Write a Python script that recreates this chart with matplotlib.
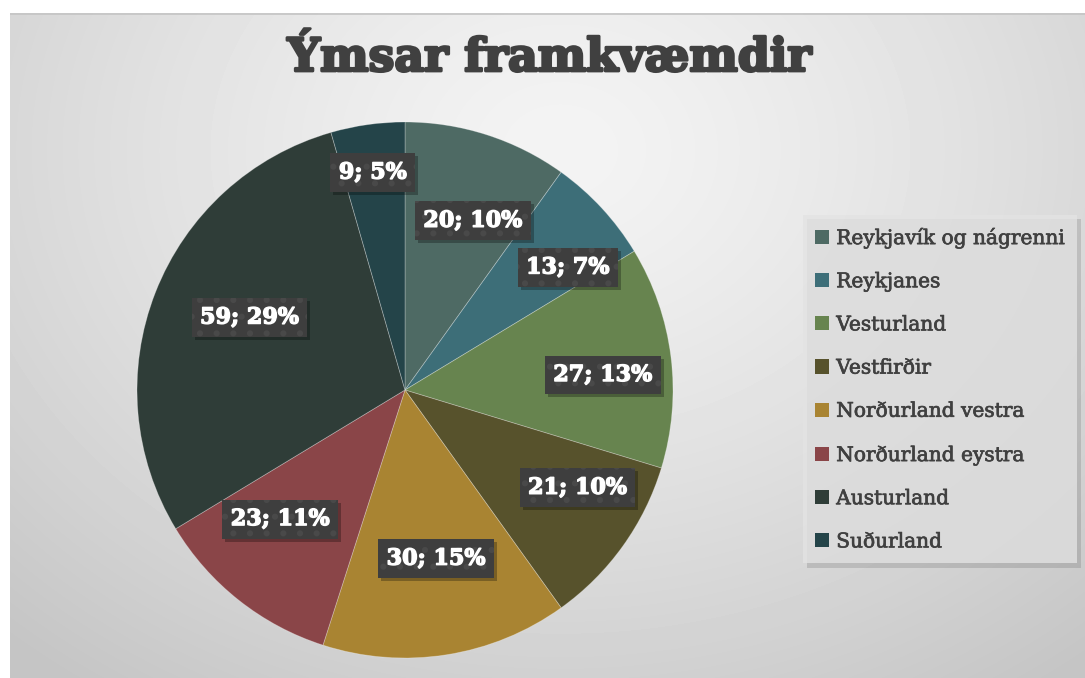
import numpy as np
import matplotlib
matplotlib.use("Agg")
import matplotlib.pyplot as plt
from matplotlib.patches import Patch, Rectangle
import matplotlib.patheffects as pe
import matplotlib.transforms as mtransforms

# ---- data ----
title = "Ýmsar framkvæmdir"
categories = ["Reykjavík og nágrenni", "Reykjanes", "Vesturland", "Vestfirðir",
              "Norðurland vestra", "Norðurland eystra", "Austurland", "Suðurland"]
values = [20, 13, 27, 21, 30, 23, 59, 9]
percents = [10, 7, 13, 10, 15, 11, 29, 5]
colors = ["#4e6a64", "#3d6e78", "#67844f", "#57522c", "#a98432", "#8a4548", "#2f3d38", "#244449"]

# label placement style (radius fraction, angular tweak in degrees)
label_r = [0.68, 0.76, 0.74, 0.74, 0.64, 0.67, 0.64, 0.82]
label_dang = [-4, -5.8, -2.8, 6.1, 1.5, -5.7, -3.6, 0.4]

W, H = 1085, 678
fig = plt.figure(figsize=(W / 100, H / 100), dpi=100)
fig.patch.set_facecolor("white")

# background gradient panel
bx0, by0 = 10, 13
bg = fig.add_axes([bx0 / W, 0, 1 - bx0 / W, 1 - by0 / H])
bg.set_axis_off()
yy, xx = np.mgrid[by0:H, bx0:W]
d = np.hypot((xx - 560) * 0.8, (yy - 150))
v = np.clip(0.955 - 0.17 * (d / 620) ** 1.3, 0.77, 1)
bg.imshow(v, cmap="gray", vmin=0, vmax=1, aspect="auto", extent=[0, 1, 0, 1], interpolation="bilinear")
bg.plot([0, 1], [0.999, 0.999], color="#c4c4c4", lw=1.2, transform=bg.transAxes)
bg.set_xlim(0, 1); bg.set_ylim(0, 1)

# pie axes
cx, cy, r = 405, 390, 268
ax = fig.add_axes([(cx - r) / W, (H - cy - r) / H, 2 * r / W, 2 * r / H])
ax.set_axis_off()
wedges, _ = ax.pie(values, colors=colors, startangle=90, counterclock=False,
                   wedgeprops=dict(edgecolor=(1, 1, 1, 0.3), linewidth=0.6))
ax.set_xlim(-1, 1); ax.set_ylim(-1, 1)

plt.rcParams["hatch.linewidth"] = 2.0
heavy = [pe.withStroke(linewidth=1.0, foreground="white")]
labels = []
for w, val, pct, rr, da in zip(wedges, values, percents, label_r, label_dang):
    ang = np.deg2rad((w.theta1 + w.theta2) / 2 + da)
    x, y = rr * np.cos(ang), rr * np.sin(ang)
    t = ax.text(x, y, f"{val}; {pct}%", ha="center", va="center", fontsize=16,
                fontweight="bold", family="DejaVu Serif", color="white",
                path_effects=heavy, zorder=5,
                bbox=dict(boxstyle="square,pad=0.38", facecolor="#3e3e3e",
                          edgecolor="#494949", linewidth=0, hatch="."))
    labels.append(t)

# title
fig.text(550 / W, 1 - 58 / H, title, ha="center", va="center", fontsize=33,
         fontweight="bold", family="DejaVu Serif", color="#404040",
         path_effects=[pe.withStroke(linewidth=2.0, foreground="#404040")])

# legend
handles = [Patch(facecolor=c, edgecolor="none") for c in colors]
leg = fig.legend(handles, categories, loc="upper left",
                 bbox_to_anchor=(803 / W, 1 - 215 / H), frameon=True,
                 fancybox=False, shadow=False,
                 prop=dict(family="DejaVu Serif", size=14.5),
                 handlelength=0.7, handleheight=0.7, handletextpad=0.35,
                 labelspacing=1.2, borderpad=0.6, borderaxespad=0)
leg.get_frame().set_facecolor("#e3e3e3")
leg.get_frame().set_edgecolor("none")
leg.get_frame().set_path_effects([
    pe.withSimplePatchShadow(offset=(3, -3), shadow_rgbFace="black", alpha=0.12)])
for txt in leg.get_texts():
    txt.set_color("#404040")
    txt.set_path_effects([pe.withStroke(linewidth=0.5, foreground="#404040")])

# drop shadows behind the label boxes
fig.canvas.draw()
for t in labels:
    bb = t.get_bbox_patch().get_window_extent()
    ax.add_patch(Rectangle((bb.x0 + 3, bb.y0 - 3), bb.width, bb.height,
                           transform=mtransforms.IdentityTransform(),
                           facecolor=(0, 0, 0, 0.28), edgecolor="none", zorder=4))

fig.savefig("out.png", dpi=100)
